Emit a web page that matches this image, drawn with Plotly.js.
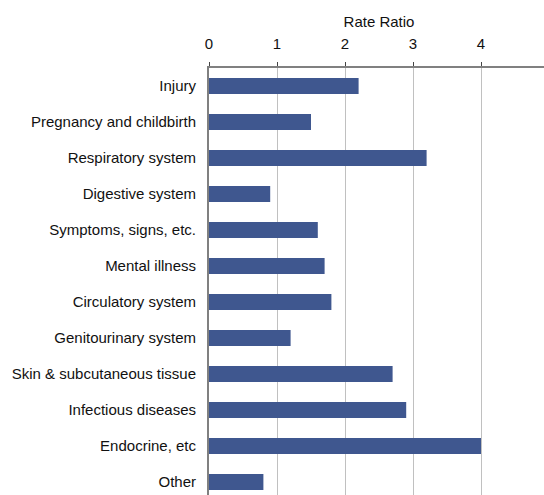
<!DOCTYPE html>
<html>
<head>
<meta charset="utf-8">
<script src="https://cdn.plot.ly/plotly-3.0.1.min.js"></script>
<style>
html,body{margin:0;padding:0;overflow:hidden;width:544px;height:495px;background:#fff;}
#chart{width:560px;height:500px;}
</style>
</head>
<body>
<div id="chart"></div>
<script>
const categories = ["Injury","Pregnancy and childbirth","Respiratory system","Digestive system","Symptoms, signs, etc.","Mental illness","Circulatory system","Genitourinary system","Skin & subcutaneous tissue","Infectious diseases","Endocrine, etc","Other"];
const rateRatio = [2.2, 1.5, 3.2, 0.9, 1.6, 1.7, 1.8, 1.2, 2.7, 2.9, 4.0, 0.8];
const xTicks = [0, 1, 2, 3, 4, 5];

const trace = {
  type: 'bar',
  orientation: 'h',
  y: categories,
  x: rateRatio,
  width: 0.44,
  marker: {color: '#3F578F'},
  hoverinfo: 'x+y'
};

const layout = {
  width: 560,
  height: 500,
  margin: {l: 209, r: 11, t: 68, b: 0, pad: 0},
  paper_bgcolor: '#fff',
  plot_bgcolor: '#fff',
  font: {family: 'Liberation Sans, Arial, sans-serif', size: 15, color: '#111'},
  showlegend: false,
  bargap: 0.56,
  xaxis: {
    side: 'top',
    range: [0, 5],
    tickvals: xTicks,
    ticktext: xTicks.map(String),
    showgrid: true,
    gridcolor: '#c0c0c0',
    gridwidth: 1,
    showline: true,
    linecolor: '#808080',
    linewidth: 2,
    ticks: 'outside',
    ticklen: 4,
    tickcolor: '#444',
    tickwidth: 1,
    ticklabelstandoff: 7,
    zeroline: false,
    fixedrange: true,
    title: {text: 'Rate Ratio', font: {size: 15}, standoff: 4}
  },
  yaxis: {
    autorange: 'reversed',
    type: 'category',
    showline: true,
    linecolor: '#808080',
    linewidth: 2,
    ticks: '',
    showgrid: false,
    ticklabelstandoff: 8,
    fixedrange: true
  }
};

Plotly.newPlot('chart', [trace], layout, {displayModeBar: false, staticPlot: true});
</script>
</body>
</html>
